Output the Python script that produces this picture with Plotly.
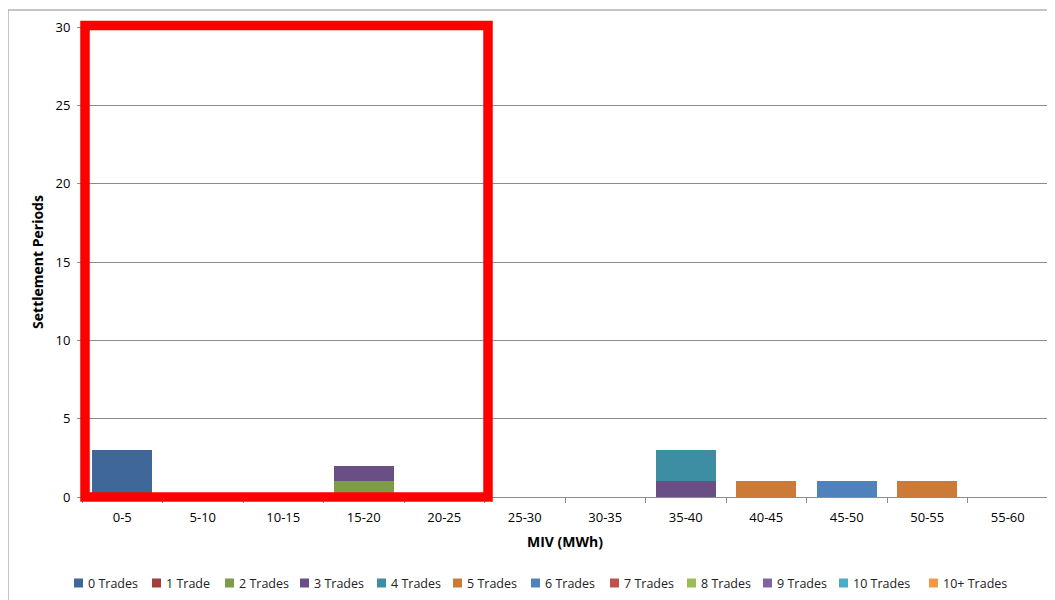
import plotly.graph_objects as go

categories = ["0-5", "5-10", "10-15", "15-20", "20-25", "25-30",
              "30-35", "35-40", "40-45", "45-50", "50-55", "55-60"]
series_names = ["0 Trades", "1 Trade", "2 Trades", "3 Trades", "4 Trades", "5 Trades",
                "6 Trades", "7 Trades", "8 Trades", "9 Trades", "10 Trades", "10+ Trades"]
trades_0 = [3, 0, 0, 0, 0, 0, 0, 0, 0, 0, 0, 0]
trades_1 = [0, 0, 0, 0, 0, 0, 0, 0, 0, 0, 0, 0]
trades_2 = [0, 0, 0, 1, 0, 0, 0, 0, 0, 0, 0, 0]
trades_3 = [0, 0, 0, 1, 0, 0, 0, 1, 0, 0, 0, 0]
trades_4 = [0, 0, 0, 0, 0, 0, 0, 2, 0, 0, 0, 0]
trades_5 = [0, 0, 0, 0, 0, 0, 0, 0, 1, 0, 1, 0]
trades_6 = [0, 0, 0, 0, 0, 0, 0, 0, 0, 1, 0, 0]
trades_7 = [0, 0, 0, 0, 0, 0, 0, 0, 0, 0, 0, 0]
trades_8 = [0, 0, 0, 0, 0, 0, 0, 0, 0, 0, 0, 0]
trades_9 = [0, 0, 0, 0, 0, 0, 0, 0, 0, 0, 0, 0]
trades_10 = [0, 0, 0, 0, 0, 0, 0, 0, 0, 0, 0, 0]
trades_10plus = [0, 0, 0, 0, 0, 0, 0, 0, 0, 0, 0, 0]
y_ticks = [0, 5, 10, 15, 20, 25, 30]

series_values = [trades_0, trades_1, trades_2, trades_3, trades_4, trades_5,
                 trades_6, trades_7, trades_8, trades_9, trades_10, trades_10plus]
colors = ["#3F6899", "#A03F3C", "#7F9A48", "#6A4F87", "#3D8DA3", "#CC7A38",
          "#4F81BD", "#C0504D", "#9BBB59", "#8064A2", "#4BACC6", "#F79646"]

FONT = "Open Sans"

# ---- layout geometry (pixels in the 1047x592 figure, page offset 8px) ----
PLOT_L, PLOT_R, PLOT_T, PLOT_B = 82, 1048, 27, 497   # page coordinates
PW, PH = PLOT_R - PLOT_L, PLOT_B - PLOT_T


def px_to_paper_x(px):
    return (px - PLOT_L) / PW


def px_to_paper_y(py):
    return (PLOT_B - py) / PH


# legend swatch left edges (page px) and row centre
legend_swatch_x = [74, 152, 225, 300, 377, 453, 531, 610, 687, 763, 839, 929]
legend_row_y = 583

fig = go.Figure()
for name, vals, col in zip(series_names, series_values, colors):
    fig.add_trace(go.Bar(x=categories, y=vals, name=name, marker_color=col,
                         marker_line_width=0))

# Outer chart border
fig.add_shape(type="rect", xref="paper", yref="paper",
              x0=px_to_paper_x(8), x1=1.2, y0=-0.3, y1=px_to_paper_y(10),
              line=dict(color="#8C8C8C", width=1), fillcolor="rgba(0,0,0,0)", layer="below")

# Red highlight rectangle
fig.add_shape(type="rect", xref="paper", yref="paper",
              x0=px_to_paper_x(85), x1=px_to_paper_x(488),
              y0=px_to_paper_y(497), y1=px_to_paper_y(25.5),
              line=dict(color="#FF0000", width=9.5), fillcolor="rgba(0,0,0,0)")

# Legend (Excel style: small square + label, single row)
ly = px_to_paper_y(legend_row_y)
for name, col, sx in zip(series_names, colors, legend_swatch_x):
    fig.add_shape(type="rect", xref="paper", yref="paper",
                  xsizemode="pixel", ysizemode="pixel",
                  xanchor=px_to_paper_x(sx), yanchor=ly,
                  x0=0, x1=9, y0=-4.5, y1=4.5,
                  line=dict(width=0), fillcolor=col)
    fig.add_annotation(xref="paper", yref="paper", x=px_to_paper_x(sx + 12), y=ly,
                       xanchor="left", yanchor="middle", text=name, showarrow=False,
                       font=dict(family=FONT, size=12.5, color="#222222"))

fig.update_layout(
    barmode="stack",
    bargap=0.255,
    width=1047, height=592,
    margin=dict(l=74, r=7, t=19, b=103, autoexpand=False),
    plot_bgcolor="white", paper_bgcolor="white",
    font=dict(family=FONT, size=13, color="#000000"),
    showlegend=False,
    xaxis=dict(
        title=dict(text="<b>MIV (MWh)</b>", font=dict(family=FONT, size=14), standoff=12),
        automargin=False,
        showline=True, linecolor="#8C8C8C", linewidth=1,
        ticks="outside", tickson="boundaries", ticklen=5, tickcolor="#8C8C8C",
        ticklabelstandoff=8,
        showgrid=False, tickfont=dict(family=FONT, size=13),
    ),
    yaxis=dict(
        title=dict(text="<b>Settlement Periods</b>", font=dict(family=FONT, size=14), standoff=8),
        automargin=False,
        range=[0, 30], tickvals=y_ticks,
        showline=True, linecolor="#8C8C8C", linewidth=1,
        ticks="outside", ticklen=4, tickcolor="#8C8C8C",
        ticklabelstandoff=4,
        showgrid=True, gridcolor="#8C8C8C", gridwidth=1, zeroline=False,
        tickfont=dict(family=FONT, size=13),
    ),
)

fig.write_html("out.html")
